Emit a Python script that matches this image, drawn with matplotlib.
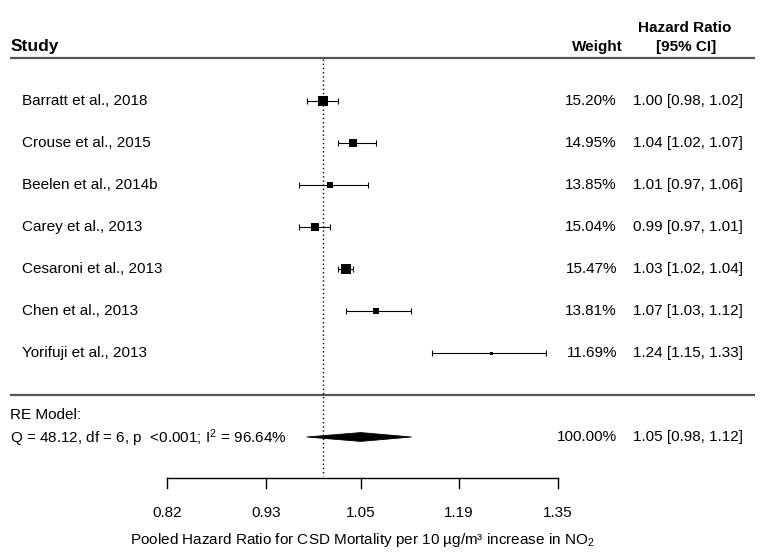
import numpy as np
import matplotlib
matplotlib.use('Agg')
import matplotlib.pyplot as plt
from matplotlib.patches import Polygon
from matplotlib.transforms import blended_transform_factory

plt.rcParams['font.family'] = ['Liberation Sans', 'DejaVu Sans']
plt.rcParams['mathtext.fontset'] = 'custom'
plt.rcParams['mathtext.rm'] = 'Liberation Sans'
plt.rcParams['mathtext.it'] = 'Liberation Sans:italic'

studies = ['Barratt et al., 2018', 'Crouse et al., 2015', 'Beelen et al., 2014b',
           'Carey et al., 2013', 'Cesaroni et al., 2013', 'Chen et al., 2013',
           'Yorifuji et al., 2013']
hr = [1.00, 1.04, 1.01, 0.99, 1.03, 1.07, 1.24]
ci_lo = [0.98, 1.02, 0.97, 0.97, 1.02, 1.03, 1.15]
ci_hi = [1.02, 1.07, 1.06, 1.01, 1.04, 1.12, 1.33]
weights = [15.20, 14.95, 13.85, 15.04, 15.47, 13.81, 11.69]

re_hr = 1.05
re_lo = 0.98
re_hi = 1.12
re_text = 'Q = 48.12, df = 6, p  <0.001; I$^2$ = 96.64%'

ticks = [0.82, 0.93, 1.05, 1.19, 1.35]
xlabel = 'Pooled Hazard Ratio for CSD Mortality per 10 \u00b5g/m\u00b3 increase in NO$_2$'

W, H = 763, 559
fig = plt.figure(figsize=(W / 100, H / 100), dpi=100)
ax = fig.add_axes([0, 0, 1, 1])
ax.axis('off')

# x in log(HR), scaled so the layout sits like the R forest plot
x0_px, px_per = 322.6, 784.2
ax.set_xlim(-x0_px / px_per, (W - x0_px) / px_per)
# y in row units, row 0 = first study
ax.set_ylim((H - 101) / 42, -101 / 42)

tr = blended_transform_factory(fig.transFigure, ax.transData)
def px(x):
    return x / W

fs = 11
k = len(studies)
rows = np.arange(k)
re_row = k + 1

# header
ax.text(px(11), -1.29, 'Study', transform=tr, fontsize=12.5, fontweight='bold', va='center')
ax.text(px(597), -1.29, 'Weight', transform=tr, fontsize=11, fontweight='bold', va='center', ha='center')
ax.text(px(685), -1.75, 'Hazard Ratio', transform=tr, fontsize=11, fontweight='bold', va='center', ha='center')
ax.text(px(686), -1.29, '[95% CI]', transform=tr, fontsize=11, fontweight='bold', va='center', ha='center')
ax.plot([px(10), px(755)], [-1.02, -1.02], transform=tr, color='#555555', lw=1.6, solid_capstyle='butt')
ax.plot([px(10), px(755)], [k, k], transform=tr, color='#555555', lw=1.6, solid_capstyle='butt')

# reference line
ax.plot([0, 0], [-1.0, 8.92], color='black', lw=1.0, ls=(0, (1, 2.0)))

# studies
lhr = np.log(hr)
llo = np.log(ci_lo)
lhi = np.log(ci_hi)
w = np.array(weights)
sizes = 3 + (w - w.min()) / (w.max() - w.min()) * 6.5  # pixels
for i in range(k):
    ax.errorbar(lhr[i], rows[i], xerr=[[lhr[i] - llo[i]], [lhi[i] - lhr[i]]],
                fmt='none', ecolor='black', elinewidth=0.8, capsize=2.2, capthick=0.8)
    ax.plot(lhr[i], rows[i], marker='s', color='black', ms=sizes[i] * 0.72, mew=0)
    ax.text(px(22), rows[i], studies[i], transform=tr, fontsize=fs, va='center')
    ax.text(px(617), rows[i], '%.2f%%' % weights[i], transform=tr, fontsize=fs, va='center', ha='right')
    ax.text(px(743), rows[i], '%.2f [%.2f, %.2f]' % (hr[i], ci_lo[i], ci_hi[i]),
            transform=tr, fontsize=fs, va='center', ha='right')

# RE model
h = 0.105
dia = Polygon([[np.log(re_lo), re_row], [np.log(re_hr), re_row - h],
               [np.log(re_hi), re_row], [np.log(re_hr), re_row + h]],
              closed=True, facecolor='black', edgecolor='black', lw=0.6)
ax.add_patch(dia)
ax.text(px(10), re_row - 0.52, 'RE Model:', transform=tr, fontsize=fs, va='center')
ax.text(px(10), re_row + 0.03, re_text, transform=tr, fontsize=fs, va='center')
ax.text(px(617), re_row, '%.2f%%' % 100, transform=tr, fontsize=fs, va='center', ha='right')
ax.text(px(743), re_row, '%.2f [%.2f, %.2f]' % (re_hr, re_lo, re_hi),
        transform=tr, fontsize=fs, va='center', ha='right')

# x axis
lt = np.log(ticks)
ax_y = 8.976
ax.plot([lt[0], lt[-1]], [ax_y, ax_y], color='black', lw=1.0)
for t, lab in zip(lt, ticks):
    ax.plot([t, t], [ax_y, ax_y + 0.24], color='black', lw=1.0)
    ax.text(t, 9.81, '%.2f' % lab, fontsize=fs, ha='center', va='center')
ax.text(np.mean([lt[0], lt[-1]]), 10.45, xlabel, fontsize=fs, ha='center', va='center')

fig.savefig('out.png', dpi=100)
